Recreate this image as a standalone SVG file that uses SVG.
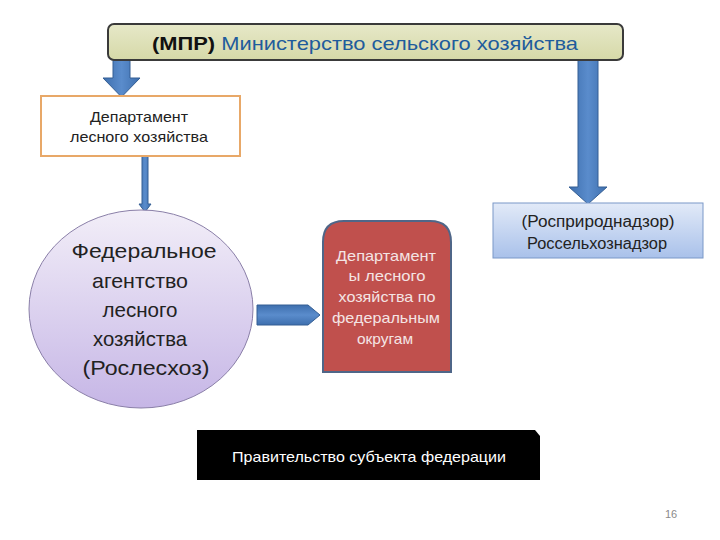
<svg xmlns="http://www.w3.org/2000/svg" width="720" height="540" viewBox="0 0 720 540">
<defs>
<linearGradient id="gTop" x1="0" y1="0" x2="0" y2="1"><stop offset="0" stop-color="#e6e8c8"/><stop offset="1" stop-color="#d6d9a8"/></linearGradient>
<linearGradient id="gCirc" x1="0" y1="0" x2="0" y2="1"><stop offset="0" stop-color="#f2eef8"/><stop offset="1" stop-color="#c6b6e6"/></linearGradient>
<linearGradient id="gBlue" x1="0" y1="0" x2="0" y2="1"><stop offset="0" stop-color="#e2eaf8"/><stop offset="1" stop-color="#a9c1ea"/></linearGradient>
<linearGradient id="gArrV" x1="0" y1="0" x2="1" y2="0"><stop offset="0" stop-color="#3e6fae"/><stop offset="0.5" stop-color="#5a8ccc"/><stop offset="1" stop-color="#3e6fae"/></linearGradient>
<linearGradient id="gArrH" x1="0" y1="0" x2="0" y2="1"><stop offset="0" stop-color="#3e6fae"/><stop offset="0.5" stop-color="#5a8ccc"/><stop offset="1" stop-color="#3e6fae"/></linearGradient>
</defs>
<style>
text{font-family:"Liberation Sans","Open Sans",Arial,sans-serif;text-anchor:middle}
.arr{stroke:#355f94;stroke-width:1}
.d{font-size:15px;fill:#222}
.c{font-size:21px;fill:#222}
.r{font-size:15px;fill:#f4e4e4}
.n{font-size:16px;fill:#222}
</style>
<rect width="720" height="540" fill="#ffffff"/>
<g id="connectors">
<polygon class="arr" fill="url(#gArrV)" points="113,60 130,60 130,78 140,78 121.5,97 103,78 113,78"/>
<polygon class="arr" fill="url(#gArrV)" points="142,156 148,156 148,204 151,204 145,212 139,204 142,204"/>
<polygon class="arr" fill="url(#gArrH)" points="257,305 308,305 320,315 308,325 257,325"/>
<polygon class="arr" fill="url(#gArrV)" points="578,60 598,60 598,187 607,187 588,204 569,187 578,187"/>
</g>
<g id="mpr">
<rect x="108" y="24" width="515" height="36" rx="6" fill="url(#gTop)" stroke="#3a3a3a" stroke-width="2"/>
<text x="365" y="50" font-size="19" textLength="426" lengthAdjust="spacingAndGlyphs"><tspan font-weight="bold" fill="#111">(МПР)</tspan><tspan fill="#1f5c9c"> Министерство сельского хозяйства</tspan></text>
</g>
<g id="dept">
<rect x="41" y="96" width="199" height="60" fill="#ffffff" stroke="#e8a868" stroke-width="2"/>
<text class="d" x="139" y="122" textLength="98" lengthAdjust="spacingAndGlyphs">Департамент</text>
<text class="d" x="139" y="142" textLength="138" lengthAdjust="spacingAndGlyphs">лесного хозяйства</text>
</g>
<g id="rosleshoz">
<ellipse cx="141" cy="309" rx="112" ry="99" fill="url(#gCirc)" stroke="#8a7fa8" stroke-width="1"/>
<text class="c" x="144" y="258" textLength="145" lengthAdjust="spacingAndGlyphs">Федеральное</text>
<text class="c" x="140" y="288" textLength="96" lengthAdjust="spacingAndGlyphs">агентство</text>
<text class="c" x="140" y="317" textLength="75" lengthAdjust="spacingAndGlyphs">лесного</text>
<text class="c" x="140" y="346" textLength="94" lengthAdjust="spacingAndGlyphs">хозяйства</text>
<text class="c" x="146" y="375" textLength="127" lengthAdjust="spacingAndGlyphs">(Рослесхоз)</text>
</g>
<g id="okruga">
<path d="M323,372 V242 Q323,221 344,221 H430 Q451,221 451,242 V372 Z" fill="#c0504d" stroke="#4f6688" stroke-width="2"/>
<text class="r" x="386" y="261" textLength="100" lengthAdjust="spacingAndGlyphs">Департамент</text>
<text class="r" x="387" y="281" textLength="77" lengthAdjust="spacingAndGlyphs">ы лесного</text>
<text class="r" x="387" y="302" textLength="97" lengthAdjust="spacingAndGlyphs">хозяйства по</text>
<text class="r" x="386" y="323" textLength="108" lengthAdjust="spacingAndGlyphs">федеральным</text>
<text class="r" x="385" y="344" textLength="56" lengthAdjust="spacingAndGlyphs">округам</text>
</g>
<g id="nadzor">
<rect x="493" y="203" width="210" height="55" fill="url(#gBlue)" stroke="#7b98c8" stroke-width="1"/>
<text class="n" x="598" y="227" textLength="153" lengthAdjust="spacingAndGlyphs">(Росприроднадзор)</text>
<text class="n" x="597" y="249" textLength="140" lengthAdjust="spacingAndGlyphs">Россельхознадзор</text>
</g>
<g id="pravitelstvo">
<polygon points="197,430 535,430 540,436 540,480 197,480" fill="#000000"/>
<text x="369" y="462" font-size="15" fill="#ffffff" textLength="274" lengthAdjust="spacingAndGlyphs">Правительство субъекта федерации</text>
</g>
<text x="671" y="518" font-size="11" fill="#8a8a8a">16</text>
</svg>
